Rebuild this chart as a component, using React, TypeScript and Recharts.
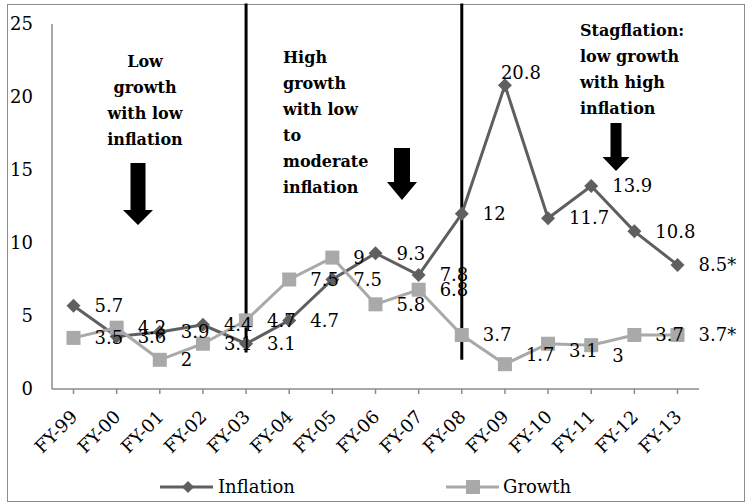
import { LineChart, Line, XAxis, YAxis, ReferenceLine } from 'recharts';

// fiscal years on the x axis
const years = [
  'FY-99', 'FY-00', 'FY-01', 'FY-02', 'FY-03', 'FY-04', 'FY-05', 'FY-06',
  'FY-07', 'FY-08', 'FY-09', 'FY-10', 'FY-11', 'FY-12', 'FY-13',
];
const inflation = [5.7, 3.6, 3.9, 4.4, 3.1, 4.7, 7.5, 9.3, 7.8, 12, 20.8, 11.7, 13.9, 10.8, 8.5];
const growth = [3.5, 4.2, 2, 3.1, 4.7, 7.5, 9, 5.8, 6.8, 3.7, 1.7, 3.1, 3, 3.7, 3.7];
const yTicks = [0, 5, 10, 15, 20, 25];
const provisionalYear = 'FY-13';
// phase boundaries (vertical lines)
const breakYears = ['FY-03', 'FY-08'];

const data = years.map((year, i) => ({ year, inflation: inflation[i], growth: growth[i] }));

const FONT = '"DejaVu Serif", serif';
const INFLATION_COLOR = '#5f5f5f';
const GROWTH_COLOR = '#a9a9a9';
const AXIS_COLOR = '#8c8c8c';

// small hand nudges for labels that were moved in the original
const inflationNudge: Record<number, [number, number]> = { 10: [-25, -13] };
const growthNudge: Record<number, [number, number]> = { 10: [0, -9], 11: [0, 7], 12: [0, 10] };

const makeLabel = (nudge: Record<number, [number, number]>) => (props: any) => {
  const x = props.x ?? props.viewBox?.x;
  const y = props.y ?? props.viewBox?.y;
  const { value, index } = props;
  if (x == null || y == null) return null;
  const [nx, ny] = nudge[index] ?? [0, 0];
  const text = years[index] === provisionalYear ? `${value}*` : String(value);
  return (
    <text
      key={`lbl-${index}`}
      x={x + 21 + nx}
      y={y + ny}
      dy="0.35em"
      fontSize={18}
      fontFamily={FONT}
      fill="#000"
    >
      {text}
    </text>
  );
};

const Diamond = (props: any) => {
  const { cx, cy, index } = props;
  if (cx == null || cy == null) return <g key={`d-${index}`} />;
  const r = 7;
  return (
    <path
      key={`d-${index}`}
      d={`M${cx},${cy - r}L${cx + r},${cy}L${cx},${cy + r}L${cx - r},${cy}Z`}
      fill={INFLATION_COLOR}
    />
  );
};

const Square = (props: any) => {
  const { cx, cy, index } = props;
  if (cx == null || cy == null) return <g key={`s-${index}`} />;
  const s = 14;
  return <rect key={`s-${index}`} x={cx - s / 2} y={cy - s / 2} width={s} height={s} fill={GROWTH_COLOR} />;
};

const XTick = (props: any) => {
  const { x, y, payload } = props;
  const ax = x + 5;
  const ay = y + 22;
  return (
    <text
      x={ax}
      y={ay}
      textAnchor="end"
      fontSize={18}
      fontFamily={FONT}
      fill="#000"
      transform={`rotate(-45, ${ax}, ${ay})`}
    >
      {payload.value}
    </text>
  );
};

const Arrow = ({ cx, top, shaftW, shaftH, headW, headH }: any) => (
  <path
    d={`M${cx - shaftW / 2},${top}h${shaftW}v${shaftH}h${(headW - shaftW) / 2}l${-headW / 2},${headH}l${-headW / 2},${-headH}h${(headW - shaftW) / 2}Z`}
    fill="#000"
  />
);

const Annotations = () => (
  <svg
    width={749}
    height={504}
    style={{ position: 'absolute', left: 0, top: 0, pointerEvents: 'none' }}
  >
    <g fontFamily={FONT} fontWeight="bold" fontSize={16} fill="#000">
      <text textAnchor="middle">
        <tspan x={145} y={67}>Low</tspan>
        <tspan x={145} y={93}>growth</tspan>
        <tspan x={145} y={119}>with low</tspan>
        <tspan x={145} y={145}>inflation</tspan>
      </text>
      <text>
        <tspan x={283} y={63}>High</tspan>
        <tspan x={283} y={89}>growth</tspan>
        <tspan x={283} y={115}>with low</tspan>
        <tspan x={283} y={141}>to</tspan>
        <tspan x={283} y={167}>moderate</tspan>
        <tspan x={283} y={193}>inflation</tspan>
      </text>
      <text>
        <tspan x={580} y={36}>Stagflation:</tspan>
        <tspan x={580} y={62}>low growth</tspan>
        <tspan x={580} y={88}>with high</tspan>
        <tspan x={580} y={114}>inflation</tspan>
      </text>
    </g>
    <Arrow cx={138} top={163} shaftW={15} shaftH={47} headW={30} headH={15} />
    <Arrow cx={402} top={148} shaftW={16} shaftH={34} headW={30} headH={18} />
    <Arrow cx={616} top={123} shaftW={11} shaftH={34} headW={27} headH={14} />
  </svg>
);

const LegendRow = () => (
  <svg
    width={749}
    height={504}
    style={{ position: 'absolute', left: 0, top: 0, pointerEvents: 'none' }}
  >
    <g>
      <line x1={160} x2={213} y1={487} y2={487} stroke={INFLATION_COLOR} strokeWidth={3} />
      <path d="M188,481L194,487L188,493L182,487Z" fill={INFLATION_COLOR} />
      <text x={218} y={487} dy="0.35em" fontSize={18} fontFamily={FONT} fill="#000">
        Inflation
      </text>
    </g>
    <g>
      <line x1={446} x2={499} y1={487} y2={487} stroke={GROWTH_COLOR} strokeWidth={3} />
      <rect x={466} y={480} width={14} height={14} fill={GROWTH_COLOR} />
      <text x={503} y={487} dy="0.35em" fontSize={18} fontFamily={FONT} fill="#000">
        Growth
      </text>
    </g>
  </svg>
);

export default function App() {
  return (
    <div style={{ position: 'absolute', left: 0, top: 0, width: 749, height: 504, background: '#fff' }}>
      <div
        style={{
          position: 'absolute',
          left: 7,
          top: 4,
          width: 738,
          height: 498,
          border: `1.5px solid ${AXIS_COLOR}`,
          boxSizing: 'border-box',
        }}
      />
      <LineChart
        width={749}
        height={504}
        data={data}
        margin={{ top: 24, right: 50, bottom: 45, left: 8 }}
        style={{ position: 'absolute', left: 0, top: 0 }}
      >
        <XAxis
          dataKey="year"
          interval={0}
          padding={{ left: 21.5, right: 21.5 }}
          height={70}
          tickSize={5}
          tickLine={{ stroke: AXIS_COLOR, strokeWidth: 1.5 }}
          axisLine={{ stroke: AXIS_COLOR, strokeWidth: 1.5 }}
          tick={<XTick />}
        />
        <YAxis
          domain={[0, 25]}
          ticks={yTicks}
          width={44}
          tickLine={false}
          tickSize={0}
          tickMargin={19}
          axisLine={{ stroke: AXIS_COLOR, strokeWidth: 1.5 }}
          tick={{ fontSize: 18, fontFamily: FONT, fill: '#000' }}
        />
        {breakYears.map((yr, i) => (
          <ReferenceLine
            key={yr}
            segment={[
              { x: yr, y: i === 0 ? 2.5 : 2.0 },
              { x: yr, y: 26.4 },
            ]}
            stroke="#000"
            strokeWidth={3}
            ifOverflow="visible"
          />
        ))}
        <Line
          dataKey="inflation"
          name="Inflation"
          stroke={INFLATION_COLOR}
          strokeWidth={3}
          dot={Diamond}
          activeDot={false}
          label={makeLabel(inflationNudge)}
          isAnimationActive={false}
        />
        <Line
          dataKey="growth"
          name="Growth"
          stroke={GROWTH_COLOR}
          strokeWidth={3}
          dot={Square}
          activeDot={false}
          label={makeLabel(growthNudge)}
          isAnimationActive={false}
        />
      </LineChart>
      <Annotations />
      <LegendRow />
    </div>
  );
}
